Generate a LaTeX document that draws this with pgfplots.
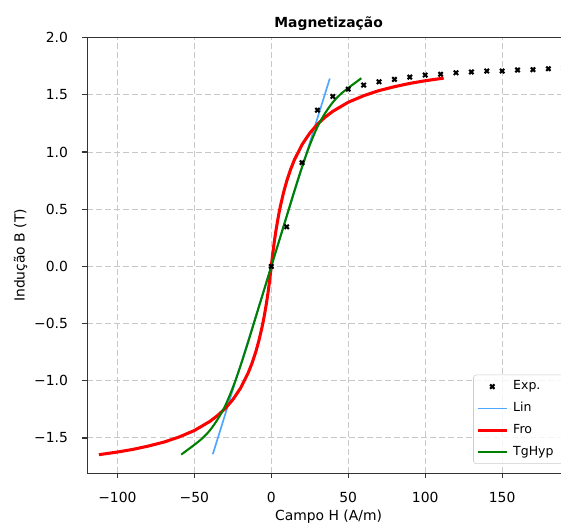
\documentclass[border=0pt]{standalone}
\usepackage{fontspec}
\setmainfont{DejaVu Sans}
\usepackage{pgfplots}
\pgfplotsset{compat=1.18}

\definecolor{linblue}{RGB}{77,166,255}
\definecolor{tggreen}{RGB}{0,128,0}
\definecolor{gridgray}{RGB}{200,200,200}

% legend sample for the marker-only series: one mark in the middle
\pgfplotsset{markleg/.style={legend image code/.code={%
  \draw[##1] plot coordinates {(10.45pt,0pt)};}}}

\begin{document}
\begin{tikzpicture}
\begin{axis}[
  scale only axis,
  width=347.5pt, height=313.6pt,
  xmin=-119.5, xmax=194,
  ymin=-1.807, ymax=2.0,
  xtick={-100,-50,0,50,100,150},
  xticklabels={−100,−50,0,50,100,150},
  ytick={-1.5,-1,-0.5,0,0.5,1,1.5,2},
  yticklabels={−1.5,−1.0,−0.5,0.0,0.5,1.0,1.5,2.0},
  tick pos=left,
  tick align=outside,
  major tick length=3.5pt,
  tick style={black!80, line width=0.8pt},
  axis line style={black!80, line width=0.8pt},
  grid=major,
  major grid style={gridgray, line width=0.7pt, dash pattern=on 4.3pt off 2.2pt},
  ticklabel style={font=\fontsize{10}{12}\selectfont},
  xticklabel style={anchor=north, inner sep=0pt, yshift=-9.9pt},
  yticklabel style={anchor=east, inner sep=0pt, xshift=-10.3pt},
  title={\textbf{Magnetização}},
  title style={at={(axis description cs:0.5,1)}, anchor=base, yshift=1.5pt,
    font=\fontsize{10}{12}\selectfont},
  xlabel={Campo H (A/m)},
  xlabel style={at={(axis description cs:0.5,-0.1)}, anchor=center,
    font=\fontsize{10}{12}\selectfont},
  ylabel={Indução B (T)},
  ylabel style={at={(axis description cs:-0.1384,0.5)}, anchor=center,
    font=\fontsize{10}{12}\selectfont},
  legend cell align=left,
  legend image code/.code={\draw[#1] (0pt,0pt) -- (20.9pt,0pt);},
  legend style={at={(0.7997,0.226)}, anchor=north west,
    draw=black!20, rounded corners=2pt, fill=white, fill opacity=0.8,
    text opacity=1, font=\fontsize{9}{11}\selectfont,
    inner xsep=2pt, inner ysep=3pt, row sep=4.9pt,
    nodes={text height=6.8pt, text depth=2pt, inner ysep=1pt, inner xsep=3.5pt,
      text width=36pt, align=left}},
]

\addplot[only marks, mark=x, black, mark size=2.2pt, line width=1.5pt, markleg]
  coordinates {
  (0,0) (10,0.346) (20,0.907) (30,1.366) (40,1.486) (50,1.550)
  (60,1.585) (70,1.614) (80,1.635) (90,1.655) (100,1.673) (110,1.680)
  (120,1.693) (130,1.700) (140,1.708) (150,1.708) (160,1.717) (170,1.720)
  (180,1.728) (190,1.733)
};
\addlegendentry{Exp.}

\addplot[linblue, line width=1.2pt] coordinates {(-38,-1.642) (38,1.642)};
\addlegendentry{Lin}

\addplot[red, line width=2.2pt] coordinates {
  (-112,-1.646) (-100,-1.623) (-90,-1.600) (-80,-1.571) (-70,-1.537)
  (-60,-1.492) (-50,-1.435) (-40,-1.356) (-35,-1.305) (-30,-1.243)
  (-25,-1.165) (-20,-1.065) (-15,-0.931) (-12.5,-0.846) (-10,-0.744)
  (-8,-0.647) (-6,-0.531) (-5,-0.465) (-4,-0.391) (-3,-0.310)
  (-2,-0.219) (-1,-0.116) (0,0)
  (1,0.116) (2,0.219) (3,0.310) (4,0.391) (5,0.465) (6,0.531) (8,0.647)
  (10,0.744) (12.5,0.846) (15,0.931) (20,1.065) (25,1.165) (30,1.243)
  (35,1.305) (40,1.356) (50,1.435) (60,1.492) (70,1.537) (80,1.571)
  (90,1.600) (100,1.623) (112,1.646)
};
\addlegendentry{Fro}

\addplot[tggreen, line width=1.5pt, smooth] coordinates {
  (-58.5,-1.645) (-55,-1.610) (-50,-1.560) (-45,-1.505) (-40,-1.435)
  (-35,-1.340) (-30,-1.220) (-25,-1.060) (-20,-0.870) (-15,-0.660)
  (-10,-0.440) (-5,-0.220) (0,0)
  (5,0.220) (10,0.440) (15,0.660) (20,0.870) (25,1.060) (30,1.220)
  (35,1.340) (40,1.435) (45,1.505) (50,1.560) (55,1.610) (58.5,1.645)
};
\addlegendentry{TgHyp}

\coordinate (sw) at (rel axis cs:0,0);
\coordinate (nw) at (rel axis cs:0,1);
\end{axis}
\pgfresetboundingbox
\path[use as bounding box] ([shift={(-62.9pt,-36.5pt)}]sw) rectangle ([shift={(341.1pt,27.1pt)}]nw);
\end{tikzpicture}
\end{document}
